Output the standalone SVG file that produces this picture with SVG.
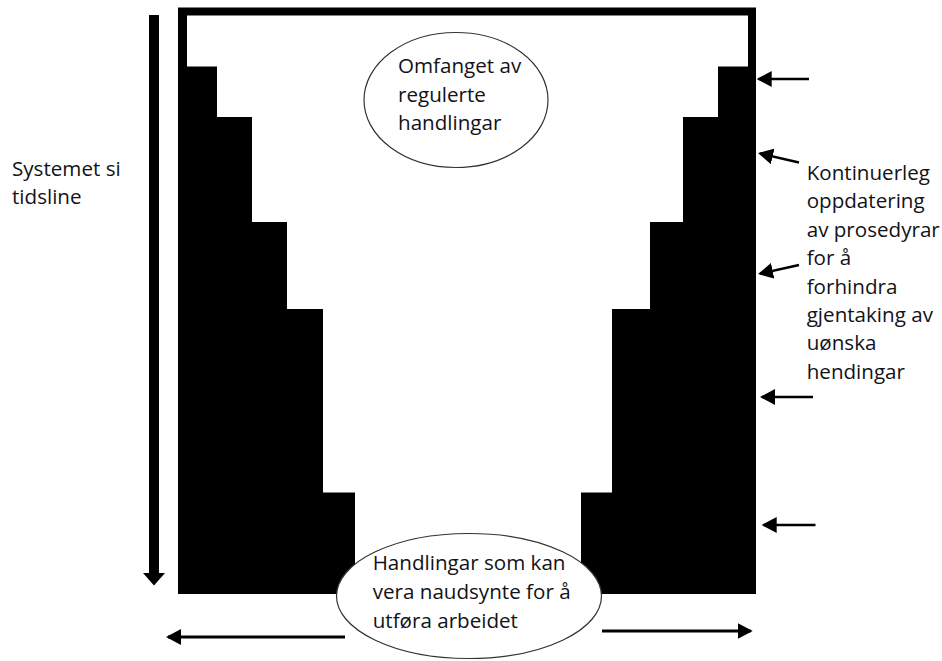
<svg xmlns="http://www.w3.org/2000/svg" width="942" height="661" viewBox="0 0 942 661">
  <style>
    .label { font-family: "Open Sans", "Liberation Sans", sans-serif; font-size: 20.6px; fill: #121218; }
    .bubble { fill: #ffffff; stroke: #333333; stroke-width: 1.2; }
    .pointer { fill: none; stroke: #000000; stroke-width: 2.5; marker-end: url(#head); }
    .pointer-wide { stroke-width: 3; }
  </style>
  <defs>
    <marker id="head" markerUnits="userSpaceOnUse" markerWidth="16" markerHeight="16" viewBox="0 0 16 16" refX="13" refY="8" orient="auto">
      <path d="M0,0 L15,8 L0,16 Z" fill="#000000"/>
    </marker>
  </defs>

  <rect width="942" height="661" fill="#ffffff"/>

  <!-- frame with stepped walls on both sides -->
  <g id="staircase-frame">
    <path fill="#000000" d="M178,594 L178,7.5 L756,7.5 L756,594 L581,594 L581,492.5 L612,492.5 L612,309 L650,309 L650,222 L683,222 L683,117 L718,117 L718,66.5 L748,66.5 L748,15.5 L187,15.5 L187,66.5 L217,66.5 L217,117 L252,117 L252,222 L287,222 L287,309 L323,309 L323,492.5 L355,492.5 L355,594 Z"/>
  </g>

  <!-- timeline arrow on the left -->
  <g id="timeline">
    <polygon fill="#000000" points="149,15 159,15 159,573 165,573 154,585.5 143,573 149,573"/>
    <text class="label" x="12" y="175.7">Systemet si</text>
    <text class="label" x="12" y="204">tidsline</text>
  </g>

  <g id="connectors">
    <line class="pointer" x1="809" y1="79" x2="758.7" y2="79"/>
    <line class="pointer" x1="799" y1="162.5" x2="760" y2="153.5"/>
    <line class="pointer" x1="799" y1="265" x2="760" y2="273.6"/>
    <line class="pointer" x1="813" y1="397" x2="762" y2="397"/>
    <line class="pointer" x1="815.5" y1="525" x2="763.7" y2="525"/>
    <line class="pointer pointer-wide" x1="345" y1="637" x2="168" y2="637"/>
    <line class="pointer pointer-wide" x1="602" y1="631" x2="750.7" y2="631"/>
  </g>

  <g id="scope-top">
    <ellipse class="bubble" cx="456" cy="100" rx="92" ry="67.5"/>
    <text class="label" x="398" y="73.3">Omfanget av</text>
    <text class="label" x="398" y="101.7">regulerte</text>
    <text class="label" x="398" y="130">handlingar</text>
  </g>

  <g id="scope-bottom">
    <ellipse class="bubble" cx="469" cy="596" rx="132.5" ry="62.5"/>
    <text class="label" x="372.7" y="570">Handlingar som kan</text>
    <text class="label" x="372.7" y="599">vera naudsynte for å</text>
    <text class="label" x="372.7" y="627.5">utføra arbeidet</text>
  </g>

  <g id="update-note">
    <text class="label" x="806.7" y="180">Kontinuerleg</text>
    <text class="label" x="806.7" y="208.4">oppdatering</text>
    <text class="label" x="806.7" y="236.8">av prosedyrar</text>
    <text class="label" x="806.7" y="265.2">for å</text>
    <text class="label" x="806.7" y="293.6">forhindra</text>
    <text class="label" x="806.7" y="322">gjentaking av</text>
    <text class="label" x="806.7" y="350.4">uønska</text>
    <text class="label" x="806.7" y="378.8">hendingar</text>
  </g>
</svg>
